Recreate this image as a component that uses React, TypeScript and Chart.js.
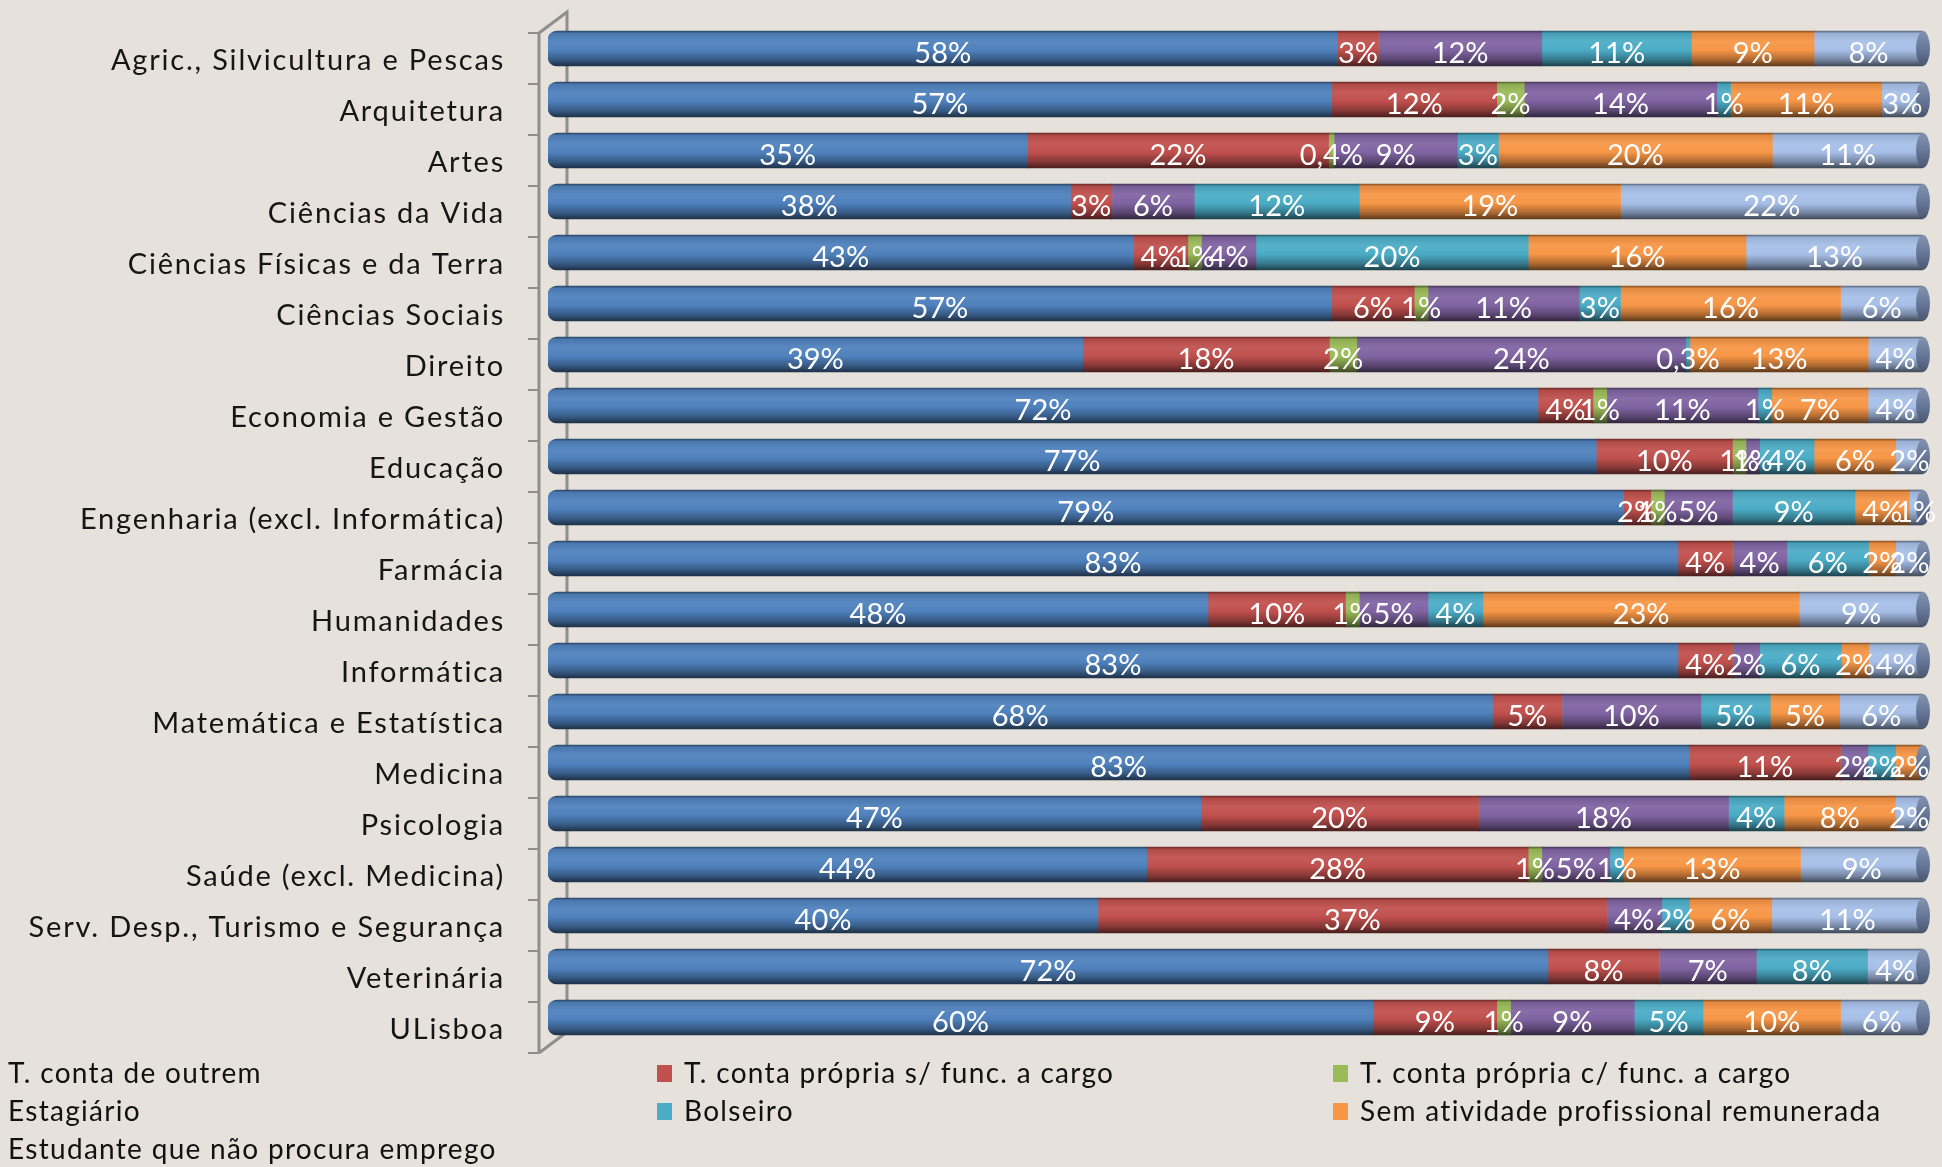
import React, { useEffect, useRef } from "react";
import { Chart, registerables } from "chart.js";

Chart.register(...registerables);

const categories = [
  "Agric., Silvicultura e Pescas",
  "Arquitetura",
  "Artes",
  "Ciências da Vida",
  "Ciências Físicas e da Terra",
  "Ciências Sociais",
  "Direito",
  "Economia e Gestão",
  "Educação",
  "Engenharia (excl. Informática)",
  "Farmácia",
  "Humanidades",
  "Informática",
  "Matemática e Estatística",
  "Medicina",
  "Psicologia",
  "Saúde (excl. Medicina)",
  "Serv. Desp., Turismo e Segurança",
  "Veterinária",
  "ULisboa",
];

const seriesNames = [
  "T. conta de outrem",
  "T. conta própria s/ func. a cargo",
  "T. conta própria c/ func. a cargo",
  "Estagiário",
  "Bolseiro",
  "Sem atividade profissional remunerada",
  "Estudante que não procura emprego",
];

const contaOutrem = [58, 57, 35, 38, 43, 57, 39, 72, 77, 79, 83, 48, 83, 68, 83, 47, 44, 40, 72, 60];
const propriaSemFunc = [3, 12, 22, 3, 4, 6, 18, 4, 10, 2, 4, 10, 4, 5, 11, 20, 28, 37, 8, 9];
const propriaComFunc = [0, 2, 0.4, 0, 1, 1, 2, 1, 1, 1, 0, 1, 0, 0, 0, 0, 1, 0, 0, 1];
const estagiario = [12, 14, 9, 6, 4, 11, 24, 11, 1, 5, 4, 5, 2, 10, 2, 18, 5, 4, 7, 9];
const bolseiro = [11, 1, 3, 12, 20, 3, 0.3, 1, 4, 9, 6, 4, 6, 5, 2, 4, 1, 2, 8, 5];
const semAtividade = [9, 11, 20, 19, 16, 16, 13, 7, 6, 4, 2, 23, 2, 5, 2, 8, 13, 6, 0, 10];
const estudante = [8, 3, 11, 22, 13, 6, 4, 4, 2, 1, 2, 9, 4, 6, 0, 2, 9, 11, 4, 6];

const seriesValues = [contaOutrem, propriaSemFunc, propriaComFunc, estagiario, bolseiro, semAtividade, estudante];
const seriesColors = ["#4F81BD", "#C0504D", "#9BBB59", "#8064A2", "#4BACC6", "#F79646", "#A7BFE8"];

const BG = "#E6E2DB";
const BAR = 35;
const FONT = "Lato, 'Open Sans', sans-serif";

function shade(hex: string, t: number) {
  const n = parseInt(hex.slice(1), 16);
  let r = (n >> 16) & 255, g = (n >> 8) & 255, b = n & 255;
  if (t < 0) {
    r *= 1 + t; g *= 1 + t; b *= 1 + t;
  } else {
    r += (255 - r) * t; g += (255 - g) * t; b += (255 - b) * t;
  }
  return `rgb(${Math.round(r)},${Math.round(g)},${Math.round(b)})`;
}

function makeBg(base: string) {
  return (ctx: any) => {
    const chart = ctx.chart;
    const y = chart.scales && chart.scales.y;
    if (!y || ctx.type !== "data" || !chart.chartArea) return base;
    const c = y.getPixelForValue(ctx.dataIndex);
    const top = c - BAR / 2;
    const bot = c + BAR / 2;
    const g = chart.ctx.createLinearGradient(0, top, 0, bot);
    g.addColorStop(0, shade(base, -0.45));
    g.addColorStop(0.07, shade(base, -0.08));
    g.addColorStop(0.3, shade(base, 0.06));
    g.addColorStop(0.55, base);
    g.addColorStop(0.82, shade(base, -0.3));
    g.addColorStop(1, shade(base, -0.62));
    return g;
  };
}

const fmt = (v: number) => String(v).replace(".", ",") + "%";

const bgPlugin = {
  id: "bgFill",
  beforeDraw(chart: any) {
    const c = chart.ctx;
    c.save();
    c.fillStyle = BG;
    c.fillRect(0, 0, chart.width, chart.height);
    c.restore();
    // letter spacing used by the category tick labels
    (c as any).letterSpacing = "1.8px";
  },
};

const wallPlugin = {
  id: "wall",
  beforeDatasetsDraw(chart: any) {
    const c = chart.ctx;
    const a = chart.chartArea;
    const n = categories.length;
    const pitch = (a.bottom - a.top) / n;
    const fx = a.left - 9;
    const ft = a.top + 10;
    const fb = a.bottom + 10;
    const dx = 28, dy = 21;
    c.save();
    c.strokeStyle = "#8E8E8E";
    c.lineWidth = 3;
    c.beginPath();
    c.moveTo(fx, fb);
    c.lineTo(fx, ft);
    c.lineTo(fx + dx, ft - dy);
    c.lineTo(fx + dx, fb - dy);
    c.lineTo(fx, fb);
    c.stroke();
    c.lineWidth = 2;
    for (let k = 0; k <= n; k++) {
      const yk = ft + k * pitch;
      c.beginPath();
      c.moveTo(fx - 11, yk);
      c.lineTo(fx, yk);
      c.stroke();
    }
    c.restore();
  },
};

const capPlugin = {
  id: "caps",
  afterDatasetsDraw(chart: any) {
    const c = chart.ctx;
    const x = chart.scales.x;
    const y = chart.scales.y;
    const cx = x.getPixelForValue(100);
    c.save();
    categories.forEach((_, i) => {
      const cy = y.getPixelForValue(i);
      const g = c.createLinearGradient(0, cy - BAR / 2, 0, cy + BAR / 2);
      g.addColorStop(0, "#8393AE");
      g.addColorStop(0.5, "#67789A");
      g.addColorStop(1, "#4B5670");
      c.fillStyle = g;
      c.beginPath();
      c.ellipse(cx, cy, 7, BAR / 2, 0, 0, Math.PI * 2);
      c.fill();
    });
    c.restore();
  },
};

const labelPlugin = {
  id: "valueLabels",
  afterDatasetsDraw(chart: any) {
    const c = chart.ctx;
    c.save();
    (c as any).letterSpacing = "0px";
    c.font = `29px ${FONT}`;
    c.fillStyle = "#FFFFFF";
    c.textAlign = "center";
    c.textBaseline = "middle";
    chart.data.datasets.forEach((_: any, di: number) => {
      const meta = chart.getDatasetMeta(di);
      meta.data.forEach((el: any, i: number) => {
        const v = seriesValues[di][i];
        if (!v) return;
        const p = el.getCenterPoint();
        c.fillText(fmt(v), p.x, p.y + 5);
      });
    });
    c.restore();
  },
};

const legendPlugin = {
  id: "customLegend",
  afterDraw(chart: any) {
    const c = chart.ctx;
    const colX = [8, 684, 1360];
    const rowY = [1074, 1112, 1150];
    c.save();
    (c as any).letterSpacing = "1.3px";
    c.font = `28px ${FONT}`;
    c.textAlign = "left";
    c.textBaseline = "middle";
    chart.data.datasets.forEach((ds: any, i: number) => {
      const col = i % 3;
      const row = Math.floor(i / 3);
      const tx = colX[col];
      const ty = rowY[row];
      c.fillStyle = ds.legendColor;
      c.fillRect(tx - 27, ty - 9, 15, 17);
      c.fillStyle = "#111111";
      c.fillText(ds.label, tx, ty);
    });
    c.restore();
  },
};

export default function App() {
  const ref = useRef<HTMLCanvasElement | null>(null);
  useEffect(() => {
    if (!ref.current) return;
    const totals = categories.map((_, i) => seriesValues.reduce((s, arr) => s + arr[i], 0));
    const chart = new Chart(ref.current, {
      type: "bar",
      data: {
        labels: categories,
        datasets: seriesNames.map((name, di) => ({
          label: name,
          legendColor: seriesColors[di],
          data: seriesValues[di].map((v, i) => (v / totals[i]) * 100),
          backgroundColor: makeBg(seriesColors[di]),
          borderWidth: 0,
          borderSkipped: false,
          borderRadius: di === 0 ? { topLeft: 9, bottomLeft: 9, topRight: 0, bottomRight: 0 } : 0,
          barThickness: BAR,
        })) as any,
      },
      options: {
        indexAxis: "y",
        responsive: false,
        animation: false,
        devicePixelRatio: 1,
        layout: { padding: { left: 0, right: 19, top: 23, bottom: 124 } },
        plugins: {
          legend: { display: false },
          tooltip: { enabled: false },
        },
        scales: {
          x: { stacked: true, min: 0, max: 100, display: false },
          y: {
            stacked: true,
            grid: { display: false, drawTicks: false },
            border: { display: false },
            ticks: {
              color: "#151515",
              font: { family: FONT, size: 29 },
              padding: 43,
              labelOffset: 12,
              autoSkip: false,
            },
            afterFit(s: any) {
              s.width = 548;
              s.paddingTop = 0;
              s.paddingBottom = 0;
            },
          },
        },
      } as any,
      plugins: [bgPlugin, wallPlugin, capPlugin, labelPlugin, legendPlugin],
    });
    return () => chart.destroy();
  }, []);
  return (
    <div style={{ position: "absolute", left: 0, top: 0, width: 1942, height: 1167, background: BG }}>
      <canvas ref={ref} width={1942} height={1167} style={{ display: "block", width: 1942, height: 1167 }} />
    </div>
  );
}
